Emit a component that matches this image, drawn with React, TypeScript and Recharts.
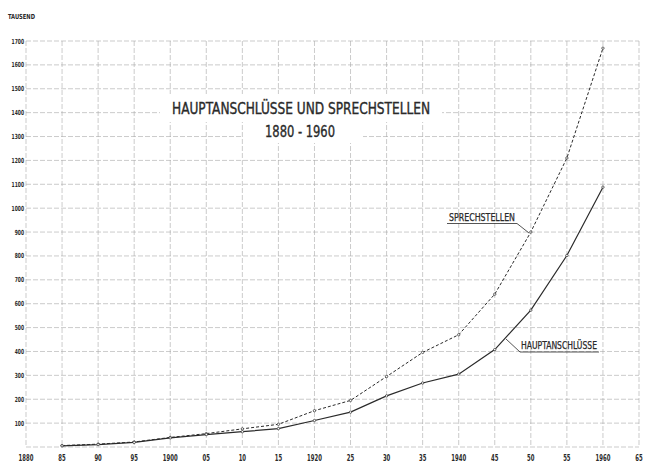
import React from "react";
import { LineChart, Line, XAxis, YAxis, CartesianGrid } from "recharts";

const years = [1885, 1890, 1895, 1900, 1905, 1910, 1915, 1920, 1925, 1930, 1935, 1940, 1945, 1950, 1955, 1960];
const hauptanschluesse = [5, 10, 19, 38, 52, 64, 77, 111, 146, 214, 268, 305, 408, 573, 802, 1088];
const sprechstellen = [6, 12, 21, 40, 56, 76, 95, 152, 195, 295, 396, 470, 640, 900, 1210, 1670];

const xTicks = [1880, 1885, 1890, 1895, 1900, 1905, 1910, 1915, 1920, 1925, 1930, 1935, 1940, 1945, 1950, 1955, 1960, 1965];
const xTickLabels = ["1880", "85", "90", "95", "1900", "05", "10", "15", "1920", "25", "30", "35", "1940", "45", "50", "55", "1960", "65"];
const yTicks = [0, 100, 200, 300, 400, 500, 600, 700, 800, 900, 1000, 1100, 1200, 1300, 1400, 1500, 1600, 1700];

const data = years.map((y, i) => ({ year: y, haupt: hauptanschluesse[i], sprech: sprechstellen[i] }));

const FONT = "'DejaVu Sans Condensed', 'DejaVu Sans', sans-serif";
const INK = "#2a2a2a";

const XTick = (props: any) => {
  const { x, y, payload } = props;
  const idx = xTicks.indexOf(payload.value);
  const label = idx >= 0 ? xTickLabels[idx] : String(payload.value);
  return (
    <text x={x} y={y + 12} textAnchor="middle" fontFamily={FONT} fontWeight="bold" fontSize={8}
      fill={INK} textLength={label.length * 3.7} lengthAdjust="spacingAndGlyphs">
      {label}
    </text>
  );
};

const YTick = (props: any) => {
  const { x, y, payload } = props;
  if (payload.value === 0) return null;
  const label = String(payload.value);
  return (
    <text x={x} y={y + 2.5} textAnchor="end" fontFamily={FONT} fontWeight="bold" fontSize={7}
      fill={INK} textLength={label.length * 3.1} lengthAdjust="spacingAndGlyphs">
      {label}
    </text>
  );
};

export default function App() {
  return (
    <div style={{ position: "absolute", left: 0, top: 0, width: 649, height: 464, background: "#fff", fontFamily: FONT }}>
      <LineChart width={649} height={464} data={data} margin={{ top: 41, right: 10, left: 0, bottom: 0 }}>
        <CartesianGrid stroke="#a8a8a8" strokeWidth={0.6} strokeDasharray="5 2" />
        <XAxis dataKey="year" type="number" domain={[1880, 1965]} ticks={xTicks} interval={0}
          axisLine={false} tickLine={false} tickSize={0} height={17} tick={<XTick />} />
        <YAxis type="number" domain={[0, 1700]} ticks={yTicks} interval={0}
          axisLine={false} tickLine={false} tickSize={0} width={26} tick={<YTick />} />
        <Line type="linear" dataKey="sprech" stroke={INK} strokeWidth={1} strokeDasharray="3 2"
          dot={{ r: 1.2, fill: "#fff", stroke: INK, strokeWidth: 0.7, strokeDasharray: "" }} isAnimationActive={false} />
        <Line type="linear" dataKey="haupt" stroke={INK} strokeWidth={1.2}
          dot={{ r: 1.2, fill: "#fff", stroke: INK, strokeWidth: 0.7 }} isAnimationActive={false} />
      </LineChart>
      <svg width={649} height={464} style={{ position: "absolute", left: 0, top: 0, pointerEvents: "none" }}>
        <text x={8} y={19} fontFamily={FONT} fontWeight="bold" fontSize={7} fill={INK}
          textLength={27} lengthAdjust="spacingAndGlyphs">TAUSEND</text>
        <rect x={160} y={94} width={282} height={28} fill="#fff" />
        <rect x={243} y={121} width={120} height={22} fill="#fff" />
        <text x={301} y={114} textAnchor="middle" fontFamily={FONT} fontSize={15} fill={INK}
          stroke={INK} strokeWidth={0.35}
          textLength={258} lengthAdjust="spacingAndGlyphs">HAUPTANSCHLÜSSE UND SPRECHSTELLEN</text>
        <text x={300} y={137} textAnchor="middle" fontFamily={FONT} fontSize={15} fill={INK}
          stroke={INK} strokeWidth={0.35}
          textLength={70} lengthAdjust="spacingAndGlyphs">1880 - 1960</text>
        <text x={449} y={221} fontFamily={FONT} fontSize={10} fill={INK} stroke={INK} strokeWidth={0.25}
          textLength={66} lengthAdjust="spacingAndGlyphs">SPRECHSTELLEN</text>
        <polyline points="447,223.5 517,223.5 529,233" fill="none" stroke={INK} strokeWidth={0.8} />
        <text x={521} y={349} fontFamily={FONT} fontSize={10} fill={INK} stroke={INK} strokeWidth={0.25}
          textLength={76} lengthAdjust="spacingAndGlyphs">HAUPTANSCHLÜSSE</text>
        <polyline points="599,352 520,352 506,339" fill="none" stroke={INK} strokeWidth={0.8} />
      </svg>
    </div>
  );
}
